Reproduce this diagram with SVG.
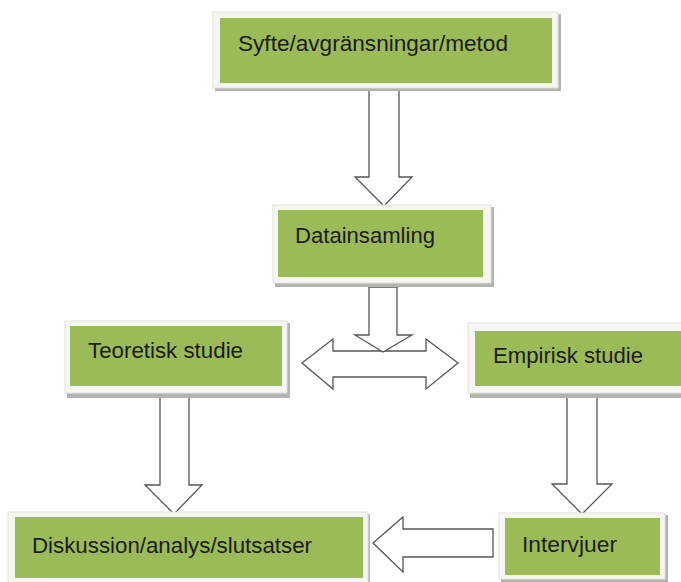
<svg xmlns="http://www.w3.org/2000/svg" width="681" height="582" viewBox="0 0 681 582">
<style>
.frame{fill:#f6f6f3;stroke:#e2e2dc;stroke-width:1}
.shadow{fill:#b4b4ae}
.box{fill:#9bbb59}
.lbl{font-family:"Liberation Sans",Arial,sans-serif;font-size:22px;fill:#1c1c1c}
.arrow{fill:#ffffff;stroke:#555555;stroke-width:1.3;stroke-linejoin:miter}
</style>
<rect width="681" height="582" fill="#ffffff"/>
<g id="connectors">
<polygon class="arrow" points="369,87 399,87 399,177 412,177 384,206 355,177 369,177"/>
<polygon class="arrow" points="302,363 333,339 333,351 426,351 426,339 458,363 426,389 426,377 333,377 333,389"/>
<polygon class="arrow" points="369,287 397,287 397,335 412,335 383,352 355,335 369,335"/>
<polygon class="arrow" points="160,394 189,394 189,485 202,485 174,514 145,485 160,485"/>
<polygon class="arrow" points="567,397 597,397 597,484 612,484 582,514 552,484 567,484"/>
<polygon class="arrow" points="493,529 403,529 403,517 373,543 403,572 403,557 493,557"/>
</g>
<g id="syfte">
<rect class="shadow" x="215" y="14" width="346" height="77"/>
<rect class="frame" x="213" y="12" width="345" height="76"/>
<rect class="box" x="220" y="18" width="332" height="65"/>
<text class="lbl" x="238" y="51" textLength="270" lengthAdjust="spacingAndGlyphs">Syfte/avgränsningar/metod</text>
</g>
<g id="datainsamling">
<rect class="shadow" x="275" y="207" width="219" height="80"/>
<rect class="frame" x="273" y="205" width="218" height="78"/>
<rect class="box" x="278" y="210" width="205" height="67"/>
<text class="lbl" x="295" y="243" textLength="140" lengthAdjust="spacingAndGlyphs">Datainsamling</text>
</g>
<g id="teoretisk">
<rect class="shadow" x="67" y="323" width="223" height="75"/>
<rect class="frame" x="65" y="321" width="222" height="72"/>
<rect class="box" x="70" y="326" width="212" height="60"/>
<text class="lbl" x="88" y="358" textLength="155" lengthAdjust="spacingAndGlyphs">Teoretisk studie</text>
</g>
<g id="empirisk">
<rect class="shadow" x="470" y="325" width="220" height="73"/>
<rect class="frame" x="468" y="323" width="220" height="70"/>
<rect class="box" x="475" y="331" width="210" height="55"/>
<text class="lbl" x="493" y="363" textLength="150" lengthAdjust="spacingAndGlyphs">Empirisk studie</text>
</g>
<g id="diskussion">
<rect class="shadow" x="10" y="514" width="360" height="70"/>
<rect class="frame" x="8" y="512" width="360" height="72"/>
<rect class="box" x="15" y="517" width="348" height="61"/>
<text class="lbl" x="32" y="553" textLength="280" lengthAdjust="spacingAndGlyphs">Diskussion/analys/slutsatser</text>
</g>
<g id="intervjuer">
<rect class="shadow" x="501" y="515" width="167" height="67"/>
<rect class="frame" x="499" y="513" width="166" height="66"/>
<rect class="box" x="505" y="518" width="155" height="57"/>
<text class="lbl" x="522" y="552" textLength="95" lengthAdjust="spacingAndGlyphs">Intervjuer</text>
</g>
</svg>
